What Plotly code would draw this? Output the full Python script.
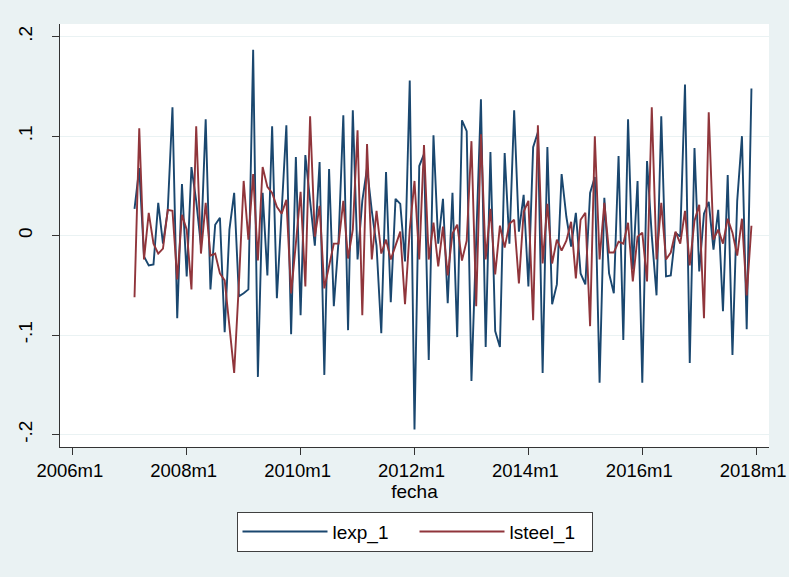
import pandas as pd
import plotly.graph_objects as go

# Monthly sample 2007m2 - 2017m12
fecha = pd.period_range("2007-02", "2017-12", freq="M")

lexp_1 = [
    0.027, 0.068, -0.021, -0.030, -0.029, 0.033, -0.008, 0.025, 0.129, -0.083,
    0.052, -0.041, 0.069, 0.035, -0.010, 0.117, -0.054, 0.011, 0.018, -0.097,
    0.006, 0.043, -0.061, -0.058, -0.054, 0.187, -0.142, 0.043, -0.040, 0.110,
    -0.063, 0.030, 0.111, -0.099, 0.079, -0.080, 0.081, 0.035, -0.010, 0.074,
    -0.140, 0.067, -0.071, -0.005, 0.121, -0.095, 0.126, -0.024, 0.035, 0.068,
    0.025, -0.010, -0.098, 0.064, -0.067, 0.037, 0.032, -0.026, 0.156, -0.195,
    0.070, 0.082, -0.125, 0.101, -0.008, 0.037, -0.068, 0.043, -0.102, 0.116,
    0.105, -0.146, -0.010, 0.137, -0.112, 0.084, -0.096, -0.112, 0.083, -0.008,
    0.126, 0.004, 0.041, -0.051, 0.089, 0.104, -0.138, 0.089, -0.069, -0.049,
    0.062, 0.019, -0.011, 0.023, -0.038, -0.049, 0.043, 0.059, -0.148, 0.038,
    -0.038, -0.058, 0.080, -0.105, 0.117, -0.034, 0.055, -0.148, 0.075, 0.000,
    -0.060, 0.120, -0.041, -0.040, 0.003, -0.001, 0.152, -0.128, 0.088, -0.036,
    0.022, 0.034, -0.014, 0.026, -0.076, 0.061, -0.120, 0.035, 0.100, -0.094,
    0.148,
]

lsteel_1 = [
    -0.062, 0.108, -0.024, 0.023, -0.008, -0.018, -0.013, 0.026, 0.025, -0.044,
    0.021, 0.006, -0.054, 0.110, -0.018, 0.033, -0.020, -0.018, -0.038, -0.045,
    -0.091, -0.138, -0.048, 0.055, -0.004, 0.062, -0.025, 0.069, 0.049, 0.043,
    0.029, 0.022, 0.036, -0.058, -0.008, 0.044, -0.051, 0.120, -0.001, 0.030,
    -0.053, -0.031, -0.008, -0.008, 0.035, -0.023, 0.006, 0.106, -0.080, 0.092,
    -0.024, 0.025, -0.018, -0.004, -0.024, -0.010, 0.004, -0.069, 0.006, 0.055,
    -0.024, 0.091, -0.024, 0.013, -0.031, 0.009, -0.040, 0.002, 0.011, -0.025,
    -0.005, 0.095, -0.071, 0.102, -0.024, 0.027, -0.039, 0.010, -0.012, 0.012,
    0.016, -0.048, 0.024, 0.035, -0.085, 0.111, -0.028, 0.032, -0.028, -0.004,
    -0.015, -0.005, 0.014, -0.043, 0.016, 0.023, -0.091, 0.100, -0.024, 0.033,
    -0.017, -0.017, -0.006, -0.008, 0.013, -0.046, -0.001, 0.003, -0.046, 0.129,
    -0.024, 0.033, -0.024, -0.017, 0.004, -0.008, 0.025, -0.030, 0.015, 0.031,
    -0.083, 0.124, -0.004, 0.006, -0.008, 0.017, 0.003, -0.020, 0.017, -0.060,
    0.010,
]

y_ticks = [-0.2, -0.1, 0.0, 0.1, 0.2]
y_tick_labels = ["-.2", "-.1", "0", ".1", ".2"]
x_tick_labels = ["2006m1", "2008m1", "2010m1", "2012m1", "2014m1", "2016m1", "2018m1"]

# x coordinate: months elapsed since 2006m1 (Stata-style %tm axis)
t = [(p.year - 2006) * 12 + (p.month - 1) for p in fecha]
t_labels = [f"{p.year}m{p.month}" for p in fecha]
x_ticks = [24 * k for k in range(len(x_tick_labels))]

FONT = "Liberation Sans, Arial, sans-serif"
BG = "#EAF2F3"

fig = go.Figure()
fig.add_trace(go.Scatter(
    x=t, y=lexp_1, mode="lines", name="lexp_1", customdata=t_labels,
    hovertemplate="%{customdata}: %{y}<extra>lexp_1</extra>",
    line=dict(color="#1A476F", width=1.9),
))
fig.add_trace(go.Scatter(
    x=t, y=lsteel_1, mode="lines", name="lsteel_1", customdata=t_labels,
    hovertemplate="%{customdata}: %{y}<extra>lsteel_1</extra>",
    line=dict(color="#90353B", width=1.9),
))

fig.update_layout(
    width=789, height=577,
    margin=dict(l=60, r=20, t=24, b=130, autoexpand=False),
    paper_bgcolor=BG, plot_bgcolor="white",
    font=dict(family=FONT, size=19, color="black"),
    showlegend=True,
    legend=dict(
        orientation="h", x=0.5, xanchor="center", y=-0.153, yanchor="top",
        bgcolor="white", bordercolor="#404040", borderwidth=1,
        itemwidth=85, entrywidth=77, font=dict(size=19),
        traceorder="normal",
    ),
)

fig.update_xaxes(
    range=[-2.7, 146.7], tickvals=x_ticks, ticktext=x_tick_labels,
    tickfont=dict(size=18.5),
    showgrid=False, zeroline=False, automargin=False,
    showline=True, linecolor="#333333", linewidth=1,
    ticks="outside", ticklen=7, tickcolor="#333333", tickwidth=1,
    ticklabelstandoff=0, ticklabelshift=-3, ticklabeloverflow="allow",
    title=dict(text="fecha", standoff=4, font=dict(size=19)),
)
fig.update_yaxes(
    range=[-0.2125, 0.2128], tickvals=y_ticks, ticktext=y_tick_labels,
    tickangle=-90, automargin=False,
    showgrid=True, gridcolor=BG, gridwidth=1.2, zeroline=False,
    showline=True, linecolor="#333333", linewidth=1,
    ticks="outside", ticklen=7, tickcolor="#333333", tickwidth=1,
    ticklabelstandoff=12,
)

fig.write_html("out.html")
